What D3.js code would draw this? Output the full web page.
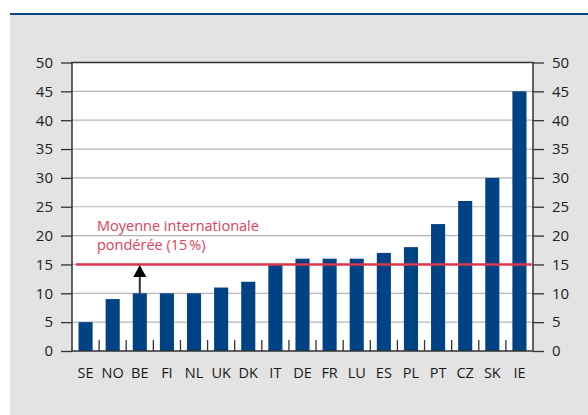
<!DOCTYPE html>
<html>
<head>
<meta charset="utf-8">
<script src="https://cdn.jsdelivr.net/npm/d3@7"></script>
<style>
  body { margin: 0; background: #fff; }
  svg text { font-family: "Open Sans", sans-serif; }
</style>
</head>
<body>
<div id="chart"></div>
<script>
// countries and values (%)
var countries = ["SE", "NO", "BE", "FI", "NL", "UK", "DK", "IT", "DE", "FR", "LU", "ES", "PL", "PT", "CZ", "SK", "IE"];
var values = [5, 9, 10, 10, 10, 11, 12, 15, 16, 16, 16, 17, 18, 22, 26, 30, 45];
var yTicks = [0, 5, 10, 15, 20, 25, 30, 35, 40, 45, 50];
var average = 15;
var averageLabel = ["Moyenne internationale", "pondérée (15\u202f%)"];
var arrowCountry = "BE";

var width = 588, height = 415;
var margin = {top: 62.5, right: 55, bottom: 64, left: 72};

var svg = d3.select("#chart").append("svg")
    .attr("width", width)
    .attr("height", height);

// gray panel and top blue rule
svg.append("rect")
    .attr("x", 10).attr("y", 14)
    .attr("width", width - 10).attr("height", height - 14)
    .attr("fill", "#e3e3e3");
svg.append("line")
    .attr("x1", 10).attr("x2", width)
    .attr("y1", 14).attr("y2", 14)
    .attr("stroke", "#00468b")
    .attr("stroke-width", 2);

var x0 = margin.left, x1 = width - margin.right;
var yBottom = height - margin.bottom;

var x = d3.scaleBand()
    .domain(countries)
    .range([x0, x1])
    .paddingInner(0.48)
    .paddingOuter(0.24);

var y = d3.scaleLinear()
    .domain([0, 50])
    .range([yBottom, margin.top]);

// plot background
svg.append("rect")
    .attr("x", x0).attr("y", margin.top)
    .attr("width", x1 - x0).attr("height", yBottom - margin.top)
    .attr("fill", "#fff");

// gridlines
svg.append("g")
    .selectAll("line")
    .data(yTicks.filter(d => d > 0 && d < 50))
    .enter().append("line")
    .attr("x1", x0).attr("x2", x1)
    .attr("y1", d => y(d)).attr("y2", d => y(d))
    .attr("stroke", "#b5b5b5")
    .attr("stroke-width", 1.2);

// bars
svg.append("g")
    .selectAll("rect")
    .data(countries)
    .enter().append("rect")
    .attr("x", d => x(d))
    .attr("width", x.bandwidth())
    .attr("y", (d, i) => y(values[i]))
    .attr("height", (d, i) => y(0) - y(values[i]))
    .attr("fill", "#004385");

// separators between categories
svg.append("g")
    .selectAll("line")
    .data(countries.slice(1))
    .enter().append("line")
    .attr("x1", d => x(d) - x.step() * x.paddingInner() / 2)
    .attr("x2", d => x(d) - x.step() * x.paddingInner() / 2)
    .attr("y1", yBottom).attr("y2", yBottom - 11)
    .attr("stroke", "#333")
    .attr("stroke-width", 1.3);

// axes
var leftAxis = d3.axisLeft(y).tickValues(yTicks).tickSize(11).tickPadding(8);
var rightAxis = d3.axisRight(y).tickValues(yTicks).tickSize(11).tickPadding(8);

function styleAxis(g) {
    g.select(".domain").remove();
    g.selectAll(".tick line").attr("stroke", "#333").attr("stroke-width", 1.3);
    g.selectAll(".tick text")
        .attr("fill", "#222")
        .attr("font-size", 15)
        .style("font-family", "'Open Sans', sans-serif");
}

svg.append("g")
    .attr("transform", "translate(" + x0 + ",0)")
    .call(leftAxis)
    .call(styleAxis);
svg.append("g")
    .attr("transform", "translate(" + x1 + ",0)")
    .call(rightAxis)
    .call(styleAxis);

// frame
svg.append("path")
    .attr("d", "M" + x0 + "," + margin.top + "H" + x1 + "V" + yBottom + "H" + x0 + "Z")
    .attr("fill", "none")
    .attr("stroke", "#333")
    .attr("stroke-width", 1.5);

// category labels
svg.append("g")
    .selectAll("text")
    .data(countries)
    .enter().append("text")
    .attr("x", d => x(d) + x.bandwidth() / 2)
    .attr("y", 378)
    .attr("text-anchor", "middle")
    .attr("font-size", 14.5)
    .attr("fill", "#1a1a1a")
    .text(d => d);

// average line
svg.append("line")
    .attr("x1", x0 + 4).attr("x2", x1 - 1.5)
    .attr("y1", y(average)).attr("y2", y(average))
    .attr("stroke", "#d9384f")
    .attr("stroke-width", 2.5);

svg.append("g")
    .selectAll("text")
    .data(averageLabel)
    .enter().append("text")
    .attr("x", 97)
    .attr("y", (d, i) => 230.5 + i * 19)
    .attr("font-size", 14.5)
    .attr("fill", "#e0405a")
    .text(d => d);

// arrow from BE bar to average
var ai = countries.indexOf(arrowCountry);
var ax = x(arrowCountry) + x.bandwidth() / 2;
svg.append("line")
    .attr("x1", ax).attr("x2", ax)
    .attr("y1", y(values[ai])).attr("y2", y(average) + 11)
    .attr("stroke", "#333")
    .attr("stroke-width", 2);
svg.append("path")
    .attr("d", "M" + ax + "," + (y(average) + 0.5) + "L" + (ax + 6.5) + "," + (y(average) + 12.5) + "L" + (ax - 6.5) + "," + (y(average) + 12.5) + "Z")
    .attr("fill", "#000");
</script>
</body>
</html>
